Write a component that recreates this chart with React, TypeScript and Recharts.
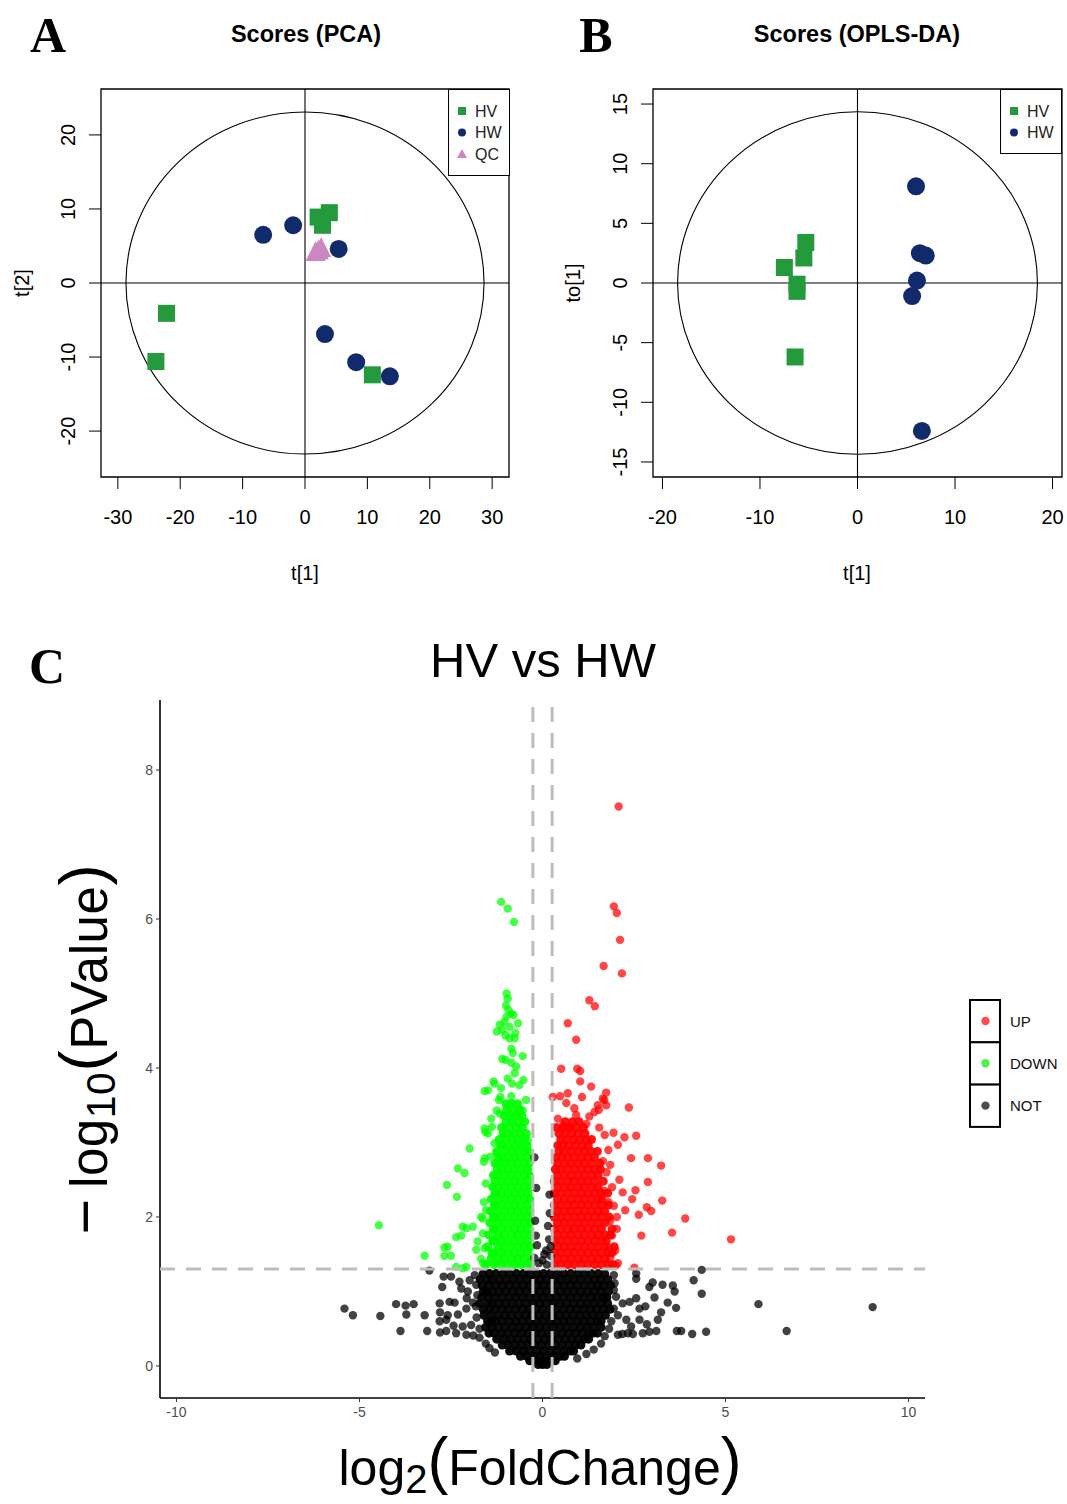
import React from "react";
import {
  ScatterChart,
  Scatter,
  XAxis,
  YAxis,
  ReferenceLine,
  ReferenceArea,
  Legend,
} from "recharts";

type Pair = [number, number];
type Row = [number, number[]];

// ---------- panel A: PCA scores ----------
const pcaTicksX = [-30, -20, -10, 0, 10, 20, 30];
const pcaTicksY = [-20, -10, 0, 10, 20];
const pcaHV: Pair[] = [[2.1, 8.9], [3.9, 9.5], [2.8, 7.8], [-22.2, -4.1], [-23.9, -10.6], [10.8, -12.4]];
const pcaHW: Pair[] = [[-6.7, 6.5], [-1.9, 7.8], [5.4, 4.6], [3.2, -6.9], [8.2, -10.7], [13.6, -12.6]];
const pcaQC: Pair[] = [[1.7, 4.2], [2.6, 4.7], [2.2, 4.4]];

// ---------- panel B: OPLS-DA scores ----------
const oplsTicksX = [-20, -10, 0, 10, 20];
const oplsTicksY = [-15, -10, -5, 0, 5, 10, 15];
const oplsHV: Pair[] = [[-7.5, 1.3], [-5.3, 3.4], [-5.5, 2.1], [-6.2, -0.1], [-6.2, -0.7], [-6.4, -6.2]];
const oplsHW: Pair[] = [[6.0, 8.1], [6.4, 2.5], [7.0, 2.3], [6.1, 0.2], [5.6, -1.1], [6.6, -12.4]];

// ---------- panel C: volcano ----------
const volTicksX = [-10, -5, 0, 5, 10];
const volTicksY = [0, 2, 4, 6, 8];

// heavily overplotted clouds, read row by row (y, then the x of each point)
const upRows: Row[] = [
  [1.36, [0.32, 0.5, 0.69, 0.87, 1.06, 1.24, 1.43, 1.61, 1.8, 1.92]],
  [1.44, [0.41, 0.6, 0.78, 0.97, 1.15, 1.34, 1.52, 1.71]],
  [1.52, [0.32, 0.5, 0.69, 0.87, 1.06, 1.24, 1.43, 1.61, 1.8, 1.9]],
  [1.6, [0.41, 0.6, 0.78, 0.97, 1.15, 1.34, 1.52, 1.71, 1.96]],
  [1.68, [0.32, 0.5, 0.69, 0.87, 1.06, 1.24, 1.43, 1.61, 1.74]],
  [1.76, [0.41, 0.6, 0.78, 0.97, 1.15, 1.34, 1.52, 1.71, 1.86]],
  [1.84, [0.32, 0.5, 0.69, 0.87, 1.06, 1.24, 1.43, 1.61, 1.9]],
  [1.92, [0.41, 0.6, 0.78, 0.97, 1.15, 1.34, 1.52, 1.71]],
  [2.0, [0.32, 0.5, 0.69, 0.87, 1.06, 1.24, 1.43, 1.61, 1.82]],
  [2.08, [0.41, 0.6, 0.78, 0.97, 1.15, 1.34, 1.52, 1.7]],
  [2.16, [0.32, 0.5, 0.69, 0.87, 1.06, 1.24, 1.43, 1.61, 1.8]],
  [2.24, [0.41, 0.6, 0.78, 0.97, 1.15, 1.34, 1.52, 1.62]],
  [2.32, [0.32, 0.5, 0.69, 0.87, 1.06, 1.24, 1.43, 1.61, 1.78]],
  [2.4, [0.41, 0.6, 0.78, 0.97, 1.15, 1.34, 1.52]],
  [2.48, [0.32, 0.5, 0.69, 0.87, 1.06, 1.24, 1.43, 1.66]],
  [2.56, [0.41, 0.6, 0.78, 0.97, 1.15, 1.34, 1.52]],
  [2.64, [0.35, 0.5, 0.69, 0.87, 1.06, 1.24, 1.43, 1.58]],
  [2.72, [0.41, 0.6, 0.78, 0.97, 1.15, 1.34, 1.56]],
  [2.8, [0.38, 0.52, 0.69, 0.87, 1.06, 1.24, 1.42]],
  [2.88, [0.45, 0.6, 0.78, 0.97, 1.15, 1.34, 1.5]],
  [2.96, [0.42, 0.55, 0.72, 0.9, 1.08, 1.25]],
  [3.04, [0.5, 0.66, 0.85, 1.02, 1.2, 1.34]],
  [3.12, [0.45, 0.62, 0.8, 0.98, 1.16]],
  [3.2, [0.38, 0.55, 0.74, 0.92, 1.12]],
  [3.28, [0.62, 0.82, 1.0]],
];
const upSparse: Pair[] = [
  [2.08, 7.51], [1.95, 6.17], [2.03, 6.08], [2.12, 5.72], [1.67, 5.37], [2.17, 5.27],
  [1.28, 4.91], [1.43, 4.83], [0.69, 4.6], [0.92, 4.38], [0.51, 3.99], [0.95, 3.99],
  [1.03, 3.96], [1.03, 3.82], [1.33, 3.75], [0.28, 3.61], [0.48, 3.62], [0.69, 3.66],
  [1.08, 3.61], [1.65, 3.59], [1.74, 3.67], [2.36, 3.47], [0.65, 3.53], [0.87, 3.46],
  [1.51, 3.5], [1.69, 3.57], [1.74, 3.5], [0.42, 3.32], [0.56, 3.23], [0.92, 3.37],
  [1.28, 3.35], [1.42, 3.41], [1.54, 3.44], [2.56, 3.09], [2.24, 3.07], [1.94, 3.13],
  [2.06, 2.97], [2.42, 2.79], [2.88, 2.79], [3.24, 2.69], [2.88, 2.47], [2.54, 2.36],
  [2.45, 2.24], [2.19, 2.33], [2.1, 2.5], [3.27, 2.22], [2.85, 2.13], [2.97, 2.08],
  [2.63, 2.03], [2.26, 2.09], [2.03, 2.0], [3.9, 1.98], [2.03, 1.84], [2.7, 1.75],
  [3.54, 1.79], [5.15, 1.7], [1.99, 1.55], [2.06, 1.38], [2.51, 1.32],
  [1.8, 2.9], [1.7, 3.1], [1.55, 3.2], [1.2, 3.25], [0.75, 3.2], [1.85, 2.7],
  [1.75, 2.6], [1.9, 2.4], [1.8, 2.2], [1.95, 2.15], [1.85, 1.95], [1.9, 1.75],
  [1.8, 1.6], [1.85, 1.45], [2.0, 1.35], [1.65, 2.75], [1.7, 2.35],
];

const downRows: Row[] = [
  [1.36, [-1.55, -1.32, -1.13, -0.95, -0.76, -0.58, -0.4, -0.32]],
  [1.44, [-1.41, -1.22, -1.04, -0.85, -0.67, -0.49, -0.33]],
  [1.52, [-1.38, -1.32, -1.13, -0.95, -0.76, -0.58, -0.4]],
  [1.6, [-1.5, -1.22, -1.04, -0.85, -0.67, -0.49, -0.33]],
  [1.68, [-1.36, -1.32, -1.13, -0.95, -0.76, -0.58, -0.4]],
  [1.76, [-1.47, -1.22, -1.04, -0.85, -0.67, -0.49, -0.33]],
  [1.84, [-1.34, -1.31, -1.13, -0.95, -0.76, -0.58, -0.4]],
  [1.92, [-1.44, -1.22, -1.04, -0.85, -0.67, -0.49, -0.34]],
  [2.0, [-1.35, -1.3, -1.13, -0.95, -0.76, -0.58, -0.4]],
  [2.08, [-1.42, -1.22, -1.04, -0.85, -0.67, -0.49, -0.34]],
  [2.16, [-1.32, -1.29, -1.12, -0.94, -0.76, -0.58, -0.4]],
  [2.24, [-1.4, -1.21, -1.03, -0.85, -0.67, -0.49, -0.35]],
  [2.32, [-1.3, -1.28, -1.12, -0.94, -0.76, -0.58, -0.4]],
  [2.4, [-1.36, -1.2, -1.03, -0.85, -0.67, -0.49, -0.35]],
  [2.48, [-1.3, -1.12, -0.94, -0.76, -0.58, -0.4]],
  [2.56, [-1.34, -1.2, -1.03, -0.85, -0.67, -0.49, -0.36]],
  [2.64, [-1.24, -1.11, -0.94, -0.76, -0.58, -0.4]],
  [2.72, [-1.3, -1.19, -1.02, -0.85, -0.67, -0.49, -0.37]],
  [2.8, [-1.2, -1.1, -0.93, -0.76, -0.58, -0.41]],
  [2.88, [-1.25, -1.01, -0.84, -0.67, -0.49, -0.38]],
  [2.96, [-1.14, -1.08, -0.92, -0.75, -0.58, -0.42]],
  [3.04, [-1.18, -1.0, -0.84, -0.66, -0.49]],
  [3.12, [-1.08, -0.95, -0.78, -0.6, -0.44]],
  [3.2, [-1.12, -0.9, -0.72, -0.55]],
  [3.28, [-1.0, -0.84, -0.66, -0.48]],
  [3.36, [-1.05, -0.9, -0.74, -0.56]],
  [3.44, [-0.98, -0.8, -0.62]],
  [3.52, [-1.0, -0.85, -0.68]],
];
const downSparse: Pair[] = [
  [-1.13, 6.23], [-0.95, 6.14], [-0.78, 5.96],
  [-0.98, 5.0], [-0.95, 4.93], [-1.0, 4.84], [-0.93, 4.78], [-0.98, 4.69], [-0.85, 4.73],
  [-0.79, 4.71], [-1.04, 4.62], [-1.17, 4.58], [-1.25, 4.49], [-1.1, 4.51], [-0.9, 4.55],
  [-0.67, 4.6], [-0.74, 4.47], [-1.01, 4.44], [-0.9, 4.4], [-0.76, 4.4], [-0.85, 4.26],
  [-0.81, 4.2], [-0.54, 4.16], [-1.01, 4.11], [-1.1, 4.12], [-0.85, 4.07], [-0.72, 4.02],
  [-0.76, 3.93], [-0.52, 3.84], [-0.95, 3.86], [-0.83, 3.79], [-0.63, 3.77], [-0.45, 3.57],
  [-1.13, 3.73], [-1.34, 3.82], [-1.49, 3.7], [-1.15, 3.61], [-1.19, 3.57], [-0.85, 3.62],
  [-1.4, 3.32], [-1.58, 3.19], [-1.38, 3.21], [-1.17, 3.39], [-1.25, 3.43], [-0.7, 3.39],
  [-0.54, 3.43], [-0.4, 3.03], [-1.49, 3.12], [-1.31, 2.99], [-1.58, 2.79], [-1.43, 2.81],
  [-1.25, 2.86], [-1.99, 2.92], [-2.31, 2.65], [-2.13, 2.59], [-2.61, 2.43], [-2.34, 2.27],
  [-3.22, 1.48], [-2.68, 1.48], [-2.5, 1.48], [-2.59, 1.6], [-2.36, 1.73], [-2.18, 1.87],
  [-1.9, 1.87], [-1.68, 2.0], [-1.54, 2.09], [-1.63, 1.78], [-1.77, 1.67], [-1.58, 1.58],
  [-1.81, 1.56], [-1.68, 1.44], [-2.36, 1.33], [-2.08, 1.33], [-1.62, 1.38], [-4.47, 1.89],
  [-1.6, 2.74], [-1.56, 3.14], [-1.58, 3.69], [-1.31, 3.79], [-1.63, 1.98], [-1.6, 2.2],
  [-2.08, 1.85], [-2.22, 1.75], [-2.68, 1.59], [-1.55, 2.45], [-2.18, 1.31],
];

const notRows: Row[] = [
  [1.24, [-1.62, -1.45, -1.27, -1.08, -0.9, -0.71, -0.52, -0.34, -0.15, 0.03, 0.21, 0.4, 0.58, 0.77, 0.96, 1.14, 1.33, 1.52, 1.7]],
  [1.16, [-1.7, -1.5, -1.36, -1.17, -0.99, -0.8, -0.62, -0.43, -0.25, -0.06, 0.12, 0.31, 0.49, 0.68, 0.86, 1.05, 1.24, 1.42, 1.6, 1.78]],
  [1.08, [-1.65, -1.47, -1.28, -1.1, -0.91, -0.72, -0.53, -0.35, -0.16, 0.02, 0.21, 0.4, 0.58, 0.77, 0.95, 1.14, 1.33, 1.5, 1.66, 1.86]],
  [1.0, [-1.62, -1.52, -1.37, -1.19, -1.0, -0.81, -0.63, -0.44, -0.26, -0.07, 0.11, 0.3, 0.48, 0.67, 0.86, 1.04, 1.23, 1.42, 1.6, 1.8]],
  [0.92, [-1.66, -1.48, -1.3, -1.11, -0.92, -0.73, -0.55, -0.36, -0.17, 0.01, 0.2, 0.39, 0.57, 0.76, 0.95, 1.13, 1.32, 1.5, 1.66, 1.76]],
  [0.84, [-1.72, -1.5, -1.38, -1.2, -1.01, -0.83, -0.64, -0.45, -0.27, -0.08, 0.1, 0.29, 0.48, 0.66, 0.85, 1.04, 1.22, 1.41, 1.6, 1.78]],
  [0.76, [-1.62, -1.45, -1.29, -1.1, -0.92, -0.73, -0.54, -0.36, -0.17, 0.01, 0.2, 0.38, 0.57, 0.76, 0.94, 1.13, 1.31, 1.48, 1.66, 1.84]],
  [0.68, [-1.6, -1.42, -1.22, -1.03, -0.85, -0.66, -0.47, -0.29, -0.1, 0.08, 0.27, 0.45, 0.64, 0.83, 1.01, 1.2, 1.38, 1.55, 1.72]],
  [0.6, [-1.5, -1.4, -1.28, -1.1, -0.91, -0.72, -0.54, -0.35, -0.17, 0.02, 0.21, 0.39, 0.58, 0.76, 0.95, 1.14, 1.32, 1.5, 1.6]],
  [0.52, [-1.55, -1.38, -1.2, -1.01, -0.83, -0.64, -0.45, -0.27, -0.08, 0.1, 0.29, 0.48, 0.66, 0.85, 1.03, 1.22, 1.4, 1.6]],
  [0.44, [-1.46, -1.33, -1.13, -0.95, -0.76, -0.58, -0.39, -0.21, -0.02, 0.16, 0.35, 0.53, 0.72, 0.9, 1.09, 1.27, 1.38, 1.5]],
  [0.36, [-1.25, -1.06, -0.87, -0.69, -0.5, -0.32, -0.13, 0.05, 0.24, 0.43, 0.61, 0.8, 0.98, 1.15, 1.26]],
  [0.28, [-1.1, -0.94, -0.75, -0.57, -0.38, -0.2, -0.01, 0.17, 0.36, 0.54, 0.73, 0.9, 1.05]],
  [0.2, [-0.9, -0.72, -0.53, -0.35, -0.16, 0.02, 0.21, 0.39, 0.58, 0.76, 0.85]],
  [0.13, [-0.6, -0.43, -0.25, -0.06, 0.12, 0.31, 0.49, 0.6]],
  [0.07, [-0.35, -0.17, 0.01, 0.19, 0.35]],
  [0.02, [-0.12, 0.0, 0.12]],
];
const notSparse: Pair[] = [
  [-5.41, 0.77], [-5.18, 0.68], [-4.43, 0.67], [-4.0, 0.83], [-3.74, 0.81], [-3.52, 0.83],
  [-3.72, 0.69], [-3.88, 0.47], [-3.22, 0.68], [-3.15, 0.47], [-3.09, 1.28], [-2.7, 1.2],
  [-2.5, 1.2], [-2.74, 1.06], [-2.27, 1.13], [-2.22, 1.04], [-2.81, 0.84], [-2.54, 0.86],
  [-2.4, 0.85], [-2.8, 0.72], [-2.59, 0.68], [-2.31, 0.69], [-2.08, 0.77], [-2.81, 0.6],
  [-2.63, 0.62], [-2.43, 0.54], [-2.18, 0.53], [-2.8, 0.45], [-2.63, 0.47], [-2.36, 0.44],
  [-2.08, 0.42], [-1.89, 0.41], [-2.07, 0.91], [-2.04, 1.0], [-1.81, 1.09], [-1.99, 1.15],
  [-1.85, 1.22], [-1.78, 0.95], [-1.82, 0.8], [-1.8, 0.65], [-1.72, 0.5], [-1.72, 0.38],
  [-1.55, 0.3], [-1.45, 0.24], [-1.3, 0.18], [-1.9, 0.85], [-1.95, 0.55],
  [2.56, 1.17], [2.92, 1.06], [3.01, 1.12], [3.28, 1.09], [3.56, 1.08], [3.61, 1.0],
  [3.42, 0.85], [3.65, 0.78], [3.24, 0.72], [3.06, 0.92], [3.15, 0.62], [3.11, 0.47],
  [2.85, 0.56], [2.65, 0.62], [2.92, 0.46], [2.74, 0.44], [2.47, 0.43], [2.33, 0.44],
  [2.18, 0.43], [2.06, 0.42], [2.56, 1.24], [1.95, 1.22], [1.97, 1.11], [1.95, 1.02],
  [2.01, 0.93], [2.38, 0.86], [2.56, 0.91], [2.65, 0.77], [2.81, 0.8], [2.19, 0.84],
  [1.95, 0.77], [2.06, 0.68], [2.29, 0.62], [2.42, 0.53], [1.88, 0.6], [1.82, 0.5],
  [1.7, 0.4], [1.6, 0.3], [1.4, 0.22], [1.2, 0.16], [0.95, 0.1],
  [4.35, 1.29], [4.13, 1.15], [4.35, 0.97], [5.9, 0.83], [4.47, 0.46], [4.09, 0.43],
  [3.79, 0.47], [3.67, 0.47], [9.02, 0.79], [6.67, 0.47],
  // between the fold-change cut-offs, above the p-value line
  [-0.22, 2.8], [-0.17, 2.39], [0.19, 2.3], [-0.2, 1.95], [0.15, 1.88], [0.2, 2.05],
  [-0.15, 1.62], [0.1, 1.55], [0.05, 1.5], [-0.22, 1.45], [0.22, 1.48], [0.18, 1.7],
  [-0.1, 1.38], [0.12, 1.36], [-0.18, 1.75], [0.22, 1.6], [0.0, 1.42],
];

const GREEN = "#239a3c";
const NAVY = "#112a6c";
const PINK = "#cc86c2";

const toPts = (p: Pair[]) => p.map(([x, y]) => ({ x, y }));
const rowPts = (r: Row[]) => r.flatMap(([y, xs]) => xs.map((x) => ({ x, y })));

// marker shapes, centred on the point the scatter hands over
const square = (s: number, c: string) => (p: any) => (
  <rect x={p.cx - s / 2} y={p.cy - s / 2} width={s} height={s} fill={c} />
);
const dot = (r: number, c: string, o = 1) => (p: any) => (
  <circle cx={p.cx} cy={p.cy} r={r} fill={c} fillOpacity={o} />
);
const tri = (s: number, c: string) => (p: any) => (
  <polygon
    points={`${p.cx},${p.cy - s * 0.55} ${p.cx - s / 2},${p.cy + s * 0.45} ${p.cx + s / 2},${p.cy + s * 0.45}`}
    fill={c}
  />
);

const RotTick = (props: any) => {
  const { x, y, payload } = props;
  return (
    <text x={x} y={y} transform={`rotate(-90 ${x} ${y})`} textAnchor="middle" fontSize={20} fill="#000">
      {payload.value}
    </text>
  );
};

type Series = { name: string; data: Pair[]; kind: "square" | "circle" | "triangle"; color: string };

const shapeFor = (s: Series) =>
  s.kind === "square" ? square(17, s.color) : s.kind === "circle" ? dot(9, s.color) : tri(20, s.color);

function ScoresPlot(props: {
  width: number;
  left: number;
  right: number;
  xDomain: [number, number];
  yDomain: [number, number];
  xTicks: number[];
  yTicks: number[];
  ellipse: [number, number];
  series: Series[];
  legendLeft: number;
  legendHeight: number;
}) {
  const { xDomain, yDomain, ellipse, series } = props;
  const legend = () => (
    <svg width={62} height={props.legendHeight} style={{ display: "block" }}>
      <rect x={0.5} y={0.5} width={61} height={props.legendHeight - 1} fill="#fff" stroke="#000" />
      {series.map((s, i) => {
        const cy = 22 + i * 21.5;
        const cx = 14;
        return (
          <g key={s.name}>
            {s.kind === "square" && <rect x={cx - 4} y={cy - 4} width={8} height={8} fill={s.color} />}
            {s.kind === "circle" && <circle cx={cx} cy={cy} r={4} fill={s.color} />}
            {s.kind === "triangle" && (
              <polygon points={`${cx},${cy - 5} ${cx - 5},${cy + 4} ${cx + 5},${cy + 4}`} fill={s.color} />
            )}
            <text x={27} y={cy} dominantBaseline="central" fontSize={16} fill="#222">
              {s.name}
            </text>
          </g>
        );
      })}
    </svg>
  );
  return (
    <ScatterChart
      width={props.width}
      height={600}
      margin={{ top: 89, right: props.right, bottom: 63, left: props.left - 40 }}
    >
      <XAxis
        type="number"
        dataKey="x"
        domain={xDomain}
        ticks={props.xTicks}
        interval={0}
        allowDataOverflow
        axisLine={false}
        tickLine={{ stroke: "#000" }}
        tickSize={12}
        tickMargin={21}
        height={60}
        tick={{ fill: "#000", fontSize: 20 }}
      />
      <YAxis
        type="number"
        dataKey="y"
        domain={yDomain}
        ticks={props.yTicks}
        interval={0}
        allowDataOverflow
        axisLine={false}
        tickLine={{ stroke: "#000" }}
        tickSize={12}
        tickMargin={14}
        width={40}
        tick={RotTick}
      />
      <ReferenceArea
        x1={xDomain[0]}
        x2={xDomain[1]}
        y1={yDomain[0]}
        y2={yDomain[1]}
        ifOverflow="visible"
        fill="none"
        stroke="#000"
        strokeWidth={1.3}
      />
      <ReferenceLine x={0} stroke="#000" strokeWidth={1.1} />
      <ReferenceLine y={0} stroke="#000" strokeWidth={1.1} />
      <ReferenceArea
        x1={-ellipse[0]}
        x2={ellipse[0]}
        y1={-ellipse[1]}
        y2={ellipse[1]}
        ifOverflow="visible"
        shape={(p: any) => (
          <ellipse
            cx={p.x + p.width / 2}
            cy={p.y + p.height / 2}
            rx={Math.abs(p.width) / 2}
            ry={Math.abs(p.height) / 2}
            fill="none"
            stroke="#000"
            strokeWidth={1.1}
          />
        )}
      />
      {series.map((s) => (
        <Scatter key={s.name} name={s.name} data={toPts(s.data)} shape={shapeFor(s)} isAnimationActive={false} />
      ))}
      <Legend
        layout="horizontal"
        verticalAlign="middle"
        align="center"
        content={legend}
        wrapperStyle={{ left: props.legendLeft, top: 89, width: 62, height: props.legendHeight }}
      />
    </ScatterChart>
  );
}

const volLegendItems = [
  { name: "UP", color: "#ff0000" },
  { name: "DOWN", color: "#00ee00" },
  { name: "NOT", color: "#000000" },
];

function VolcanoPlot() {
  const dash = { stroke: "#bdbdbd", strokeWidth: 3, strokeDasharray: "15 11" };
  const legend = () => (
    <svg width={100} height={130} style={{ display: "block" }}>
      {volLegendItems.map((it, i) => (
        <g key={it.name}>
          <rect x={1} y={1 + i * 42.3} width={30} height={42.3} fill="#fff" stroke="#000" strokeWidth={2} />
          <circle cx={16.5} cy={22 + i * 42.3} r={4.2} fill={it.color} fillOpacity={0.7} />
          <text x={41} y={22 + i * 42.3} dominantBaseline="central" fontSize={15} fill="#111">
            {it.name}
          </text>
        </g>
      ))}
    </svg>
  );
  return (
    <ScatterChart width={1067} height={884} margin={{ top: 80, right: 142, bottom: 66, left: 110 }}>
      <XAxis
        type="number"
        dataKey="x"
        domain={[-10.45, 10.45]}
        ticks={volTicksX}
        interval={0}
        allowDataOverflow
        height={40}
        axisLine={{ stroke: "#000", strokeWidth: 1.6 }}
        tickLine={{ stroke: "#333" }}
        tickSize={4}
        tickMargin={5}
        tick={{ fill: "#4d4d4d", fontSize: 14 }}
      />
      <YAxis
        type="number"
        dataKey="y"
        domain={[-0.43, 8.94]}
        ticks={volTicksY}
        interval={0}
        allowDataOverflow
        width={50}
        axisLine={{ stroke: "#000", strokeWidth: 1.6 }}
        tickLine={{ stroke: "#333" }}
        tickSize={4}
        tickMargin={3}
        tick={{ fill: "#4d4d4d", fontSize: 14 }}
      />
      {/* dense cores are drawn near-opaque to stand in for thousands of stacked points */}
      <Scatter name="DOWN" data={rowPts(downRows)} shape={dot(4.5, "#00ff00", 0.92)} isAnimationActive={false} />
      <Scatter name="DOWN " data={toPts(downSparse)} shape={dot(4.2, "#00ff00", 0.72)} isAnimationActive={false} />
      <Scatter name="UP" data={rowPts(upRows)} shape={dot(4.5, "#ff0000", 0.92)} isAnimationActive={false} />
      <Scatter name="UP " data={toPts(upSparse)} shape={dot(4.2, "#ff0000", 0.72)} isAnimationActive={false} />
      <Scatter name="NOT" data={rowPts(notRows)} shape={dot(4.5, "#000000", 0.95)} isAnimationActive={false} />
      <Scatter name="NOT " data={toPts(notSparse)} shape={dot(4.2, "#000000", 0.74)} isAnimationActive={false} />
      <ReferenceLine y={1.301} {...dash} zIndex={700} />
      <ReferenceLine x={-0.263} {...dash} zIndex={700} />
      <ReferenceLine x={0.263} {...dash} zIndex={700} />
      <Legend
        layout="horizontal"
        verticalAlign="middle"
        align="center"
        content={legend}
        wrapperStyle={{ left: 969, top: 379, width: 100, height: 130 }}
      />
    </ScatterChart>
  );
}

function Txt(props: {
  cx: number;
  cy: number;
  h?: number;
  rotate?: boolean;
  style?: React.CSSProperties;
  children: React.ReactNode;
}) {
  const h = props.h ?? 60;
  return (
    <div
      style={{
        position: "absolute",
        left: props.cx - 250,
        top: props.cy - h / 2,
        width: 500,
        height: h,
        display: "flex",
        alignItems: "center",
        justifyContent: "center",
        whiteSpace: "nowrap",
        lineHeight: 1,
        transform: props.rotate ? "rotate(-90deg)" : undefined,
        ...props.style,
      }}
    >
      {props.children}
    </div>
  );
}

const letter: React.CSSProperties = { fontFamily: '"Liberation Serif", "Times New Roman", serif', fontWeight: 700, fontSize: 50 };
const title: React.CSSProperties = { fontWeight: 700, fontSize: 23.5 };
const big: React.CSSProperties = { fontSize: 50 };
const paren: React.CSSProperties = { fontSize: "1.25em", verticalAlign: "0.04em", lineHeight: 0.9 };
const sub: React.CSSProperties = { fontSize: "0.8em", position: "relative", top: "0.22em", lineHeight: 0.8 };

export default function App() {
  return (
    <div
      style={{
        position: "absolute",
        left: 0,
        top: 0,
        width: 1067,
        height: 1504,
        background: "#fff",
        overflow: "hidden",
        fontFamily: '"Liberation Sans", Arial, sans-serif',
        color: "#000",
      }}
    >
      <div style={{ position: "absolute", left: 0, top: 0 }}>
        <ScoresPlot
          width={540}
          left={101}
          right={31}
          xDomain={[-32.7, 32.7]}
          yDomain={[-26.2, 26.2]}
          xTicks={pcaTicksX}
          yTicks={pcaTicksY}
          ellipse={[28.7, 23.1]}
          series={[
            { name: "HV", data: pcaHV, kind: "square", color: GREEN },
            { name: "HW", data: pcaHW, kind: "circle", color: NAVY },
            { name: "QC", data: pcaQC, kind: "triangle", color: PINK },
          ]}
          legendLeft={448}
          legendHeight={87}
        />
      </div>
      <div style={{ position: "absolute", left: 540, top: 0 }}>
        <ScoresPlot
          width={527}
          left={113}
          right={5}
          xDomain={[-20.97, 20.97]}
          yDomain={[-16.26, 16.26]}
          xTicks={oplsTicksX}
          yTicks={oplsTicksY}
          ellipse={[18.45, 14.35]}
          series={[
            { name: "HV", data: oplsHV, kind: "square", color: GREEN },
            { name: "HW", data: oplsHW, kind: "circle", color: NAVY },
          ]}
          legendLeft={460}
          legendHeight={65}
        />
      </div>
      <div style={{ position: "absolute", left: 0, top: 620 }}>
        <VolcanoPlot />
      </div>

      <Txt cx={48} cy={35} style={letter}>A</Txt>
      <Txt cx={596} cy={35} style={letter}>B</Txt>
      <Txt cx={47} cy={666} style={letter}>C</Txt>
      <Txt cx={306} cy={35} style={title}>Scores (PCA)</Txt>
      <Txt cx={857} cy={35} style={title}>Scores (OPLS-DA)</Txt>
      <Txt cx={305} cy={573} h={30} style={{ fontSize: 20 }}>t[1]</Txt>
      <Txt cx={857} cy={573} h={30} style={{ fontSize: 20 }}>t[1]</Txt>
      <Txt cx={22} cy={283} h={30} rotate style={{ fontSize: 20 }}>t[2]</Txt>
      <Txt cx={573} cy={283} h={30} rotate style={{ fontSize: 20 }}>to[1]</Txt>
      <Txt cx={543} cy={660} style={{ fontSize: 49 }}>HV vs HW</Txt>
      <Txt cx={540} cy={1462} h={60} style={big}>
        <span>
          log<span style={sub}>2</span>
          <span style={paren}>(</span>FoldChange<span style={paren}>)</span>
        </span>
      </Txt>
      <Txt cx={85} cy={1049} h={66} rotate style={{ fontSize: 51, letterSpacing: 0.6 }}>
        <span>
          <span style={{ fontSize: "1.2em", marginRight: 10 }}>−</span>log<span style={sub}>10</span>
          <span style={paren}>(</span>PValue<span style={paren}>)</span>
        </span>
      </Txt>
    </div>
  );
}
